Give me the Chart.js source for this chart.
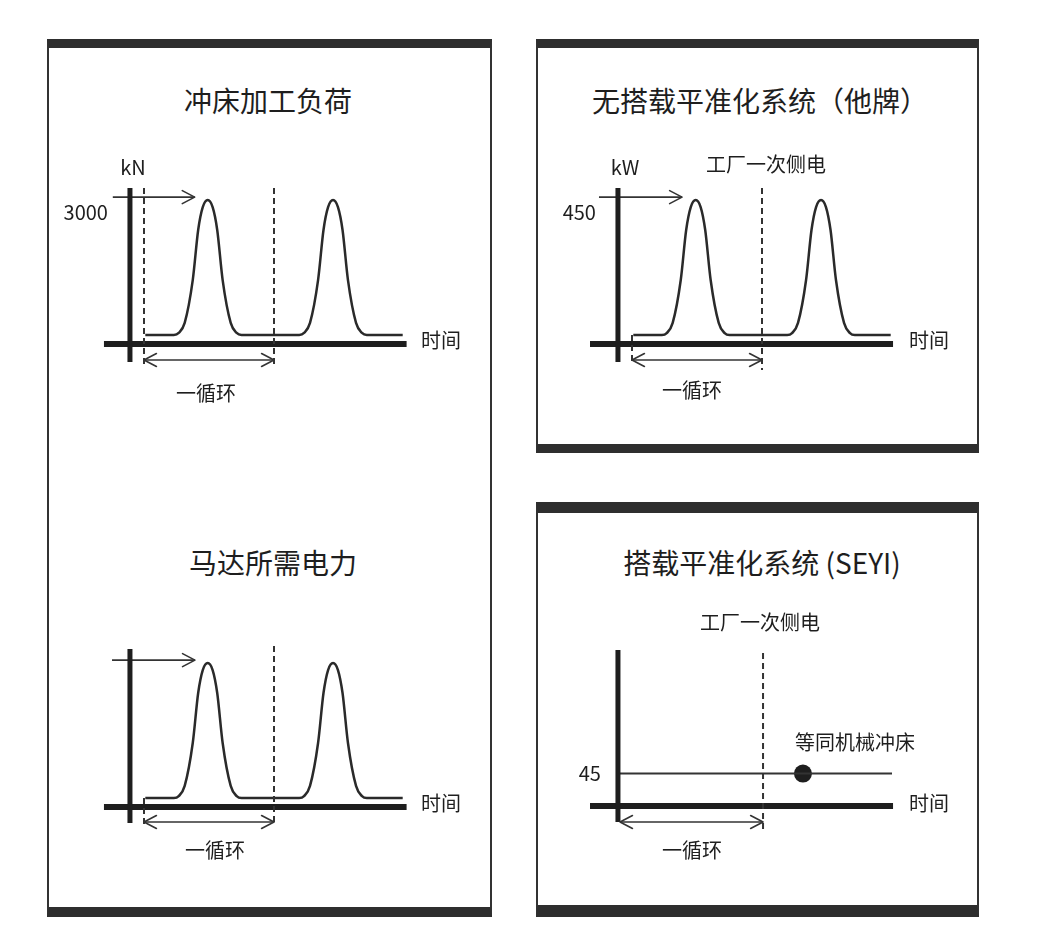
<!DOCTYPE html>
<html><head><meta charset="utf-8">
<script src="https://cdn.jsdelivr.net/npm/chart.js@4.4.1/dist/chart.umd.min.js"></script>
<style>
html,body{margin:0;padding:0;background:#fff;}
body{width:1037px;height:933px;position:relative;overflow:hidden;font-family:"Noto Sans CJK SC","Noto Sans",sans-serif;color:#1e1e1e;}
.panel{position:absolute;box-sizing:border-box;border-left:2px solid #333;border-right:2px solid #333;border-top:9px solid #2e2e2e;border-bottom:10px solid #2e2e2e;}
.t{position:absolute;transform:translate(-50%,-50%);white-space:nowrap;line-height:1;}
.title{font-size:28px;}
.lbl{font-size:20px;}
canvas{position:absolute;}
</style></head>
<body>
<div class="panel" style="left:47px;top:39px;width:445px;height:878px;"></div>
<div class="panel" style="left:536px;top:39px;width:443px;height:414px;border-bottom-width:9px;"></div>
<div class="panel" style="left:536px;top:502px;width:443px;height:415px;border-top-width:11px;border-bottom-width:12px;"></div>

<canvas id="cA" width="429" height="252" style="left:53px;top:152px;width:429px;height:252px"></canvas>
<canvas id="cB" width="429" height="252" style="left:53px;top:615px;width:429px;height:252px"></canvas>
<canvas id="cC" width="429" height="252" style="left:541px;top:152px;width:429px;height:252px"></canvas>
<canvas id="cD" width="429" height="261" style="left:541px;top:590px;width:429px;height:261px"></canvas>

<div class="t title" style="left:268px;top:100px;">冲床加工负荷</div>
<div class="t lbl" style="left:133px;top:167px;">kN</div>
<div class="t lbl" style="left:441px;top:340px;">时间</div>
<div class="t lbl" style="left:206px;top:393px;">一循环</div>

<div class="t title" style="left:273px;top:562px;">马达所需电力</div>
<div class="t lbl" style="left:441px;top:803px;">时间</div>
<div class="t lbl" style="left:215px;top:850px;">一循环</div>

<div class="t title" style="left:760px;top:100px;">无搭载平准化系统（他牌）</div>
<div class="t lbl" style="left:625px;top:167px;">kW</div>
<div class="t lbl" style="left:766px;top:164px;">工厂一次侧电</div>
<div class="t lbl" style="left:929px;top:340px;">时间</div>
<div class="t lbl" style="left:692px;top:390px;">一循环</div>

<div class="t title" style="left:762px;top:562px;">搭载平准化系统 (SEYI)</div>
<div class="t lbl" style="left:760px;top:622px;">工厂一次侧电</div>
<div class="t lbl" style="left:855px;top:742px;">等同机械冲床</div>
<div class="t lbl" style="left:929px;top:803px;">时间</div>
<div class="t lbl" style="left:692px;top:850px;">一循环</div>

<script>
// ---- data ----
const cycleTime     = [0.1, 2.3, 2.67, 3.13, 3.75, 4.17, 4.52, 4.9, 5.28, 5.63, 6.05, 6.67, 7.13, 7.5,
                       11.94, 12.31, 12.77, 13.39, 13.81, 14.16, 14.54, 14.92, 15.27, 15.69, 16.31, 16.77, 17.14, 19.9];
const pressLoadKN   = [190, 190, 230, 440, 1330, 2380, 2850, 3000, 2850, 2380, 1330, 440, 230, 190,
                       190, 230, 440, 1330, 2380, 2850, 3000, 2850, 2380, 1330, 440, 230, 190, 190];
const motorPowerKW  = [28, 28, 34, 66, 200, 357, 428, 450, 428, 357, 200, 66, 34, 28,
                       28, 34, 66, 200, 357, 428, 450, 428, 357, 200, 66, 34, 28, 28];
const gridPowerKW   = [28, 28, 34, 66, 200, 357, 428, 450, 428, 357, 200, 66, 34, 28,
                       28, 34, 66, 200, 357, 428, 450, 428, 357, 200, 66, 34, 28, 28];
const levelledTime  = [-1.08, 20.0];
const levelledKW    = [45, 45];
const equivPressTime = [13.15];
const equivPressKW   = [45];
const cycleBounds   = [0, 10];
const loadTicks     = [3000];
const loadTickLabels = ['3000'];
const powerTicks    = [450];
const powerTickLabels = ['450'];
const levelTicks    = [45];
const levelTickLabels = ['45'];

// ---- plugins ----
const arrowPlugin = {
  id: 'arrowHeads',
  afterDatasetsDraw(chart) {
    const ctx = chart.ctx;
    chart.data.datasets.forEach((ds, i) => {
      if (!ds.arrow) return;
      const pts = chart.getDatasetMeta(i).data;
      const a = pts[0], b = pts[pts.length - 1];
      ctx.save();
      ctx.strokeStyle = ds.borderColor;
      ctx.lineWidth = ds.borderWidth;
      ctx.lineCap = 'round'; ctx.lineJoin = 'round';
      const head = (tip, from) => {
        const ang = Math.atan2(tip.y - from.y, tip.x - from.x), L = 14, s = 0.48;
        ctx.beginPath();
        ctx.moveTo(tip.x - L * Math.cos(ang - s), tip.y - L * Math.sin(ang - s));
        ctx.lineTo(tip.x, tip.y);
        ctx.lineTo(tip.x - L * Math.cos(ang + s), tip.y - L * Math.sin(ang + s));
        ctx.stroke();
      };
      head(b, a);
      if (ds.arrow === 'both') head(a, b);
      ctx.restore();
    });
  }
};
const tickPlugin = {
  id: 'valueTicks',
  afterDatasetsDraw(chart, args, o) {
    if (!o || !o.values || !o.values.length) return;
    const ctx = chart.ctx;
    ctx.save();
    ctx.font = '20px "Noto Sans CJK SC", "Noto Sans", sans-serif';
    ctx.fillStyle = '#1e1e1e';
    ctx.textAlign = 'right'; ctx.textBaseline = 'middle';
    const x = chart.scales.x.getPixelForValue(o.atX) - o.gap;
    o.values.forEach((v, i) => {
      ctx.fillText(o.labels[i], x, chart.scales.y.getPixelForValue(v) + o.dy);
    });
    ctx.restore();
  }
};

const X_RANGE = [-7, 26];
const AXIS = '#1e1e1e', INK = '#2a2a2a';
const seg = (x1, y1, x2, y2) => [{x: x1, y: y1}, {x: x2, y: y2}];
const ds = (data, o) => Object.assign({data, borderColor: INK, borderWidth: 2, pointRadius: 0,
  fill: false, clip: false, tension: 0}, o);
const dash = (x, top, bottom) => ds(seg(x, top, x, bottom), {borderDash: [6, 4], borderWidth: 2, borderColor: '#333'});

function buildPanel(g, times, values) {
  const sets = [];
  g.dashes.forEach(d => sets.push(dash(d[0], d[1], d[2])));
  sets.push(ds(seg(g.yAxisX, g.yAxis[0], g.yAxisX, g.yAxis[1]), {borderWidth: 5, borderColor: AXIS}));
  sets.push(ds(seg(g.xAxis[0], 0, g.xAxis[1], 0), {borderWidth: 6, borderColor: AXIS}));
  if (times) sets.push(ds(times.map((t, i) => ({x: t, y: values[i]})), g.curveStyle || {borderWidth: 2.5, cubicInterpolationMode: 'monotone'}));
  if (g.arrowY !== undefined) sets.push(ds(seg(g.arrowX[0], g.arrowY, g.arrowX[1], g.arrowY), {borderWidth: 1.6, borderColor: '#333', arrow: 'end'}));
  sets.push(ds(seg(g.cycleX[0], g.cycleY, g.cycleX[1], g.cycleY), {borderWidth: 1.6, borderColor: '#333', arrow: 'both'}));
  return sets;
}

function makeChart(id, yRange, datasets, ticks) {
  return new Chart(document.getElementById(id), {
    type: 'line',
    data: {datasets},
    options: {
      responsive: false, animation: false, events: [],
      layout: {padding: 0, autoPadding: false},
      scales: {
        x: {type: 'linear', min: X_RANGE[0], max: X_RANGE[1], display: false},
        y: {type: 'linear', min: yRange[0], max: yRange[1], display: false}
      },
      plugins: {legend: {display: false}, tooltip: {enabled: false}, valueTicks: ticks || {values: []}}
    },
    plugins: [arrowPlugin, tickPlugin]
  });
}

// Panel A: press load
makeChart('cA', [-1250, 4000], buildPanel({
  yAxisX: -1.08, yAxis: [3250, -375], xAxis: [-3.08, 20.2],
  dashes: [[cycleBounds[0], 3250, -500], [cycleBounds[1], 3250, -500]],
  arrowY: 3060, arrowX: [-2.4, 3.9],
  cycleY: -333, cycleX: cycleBounds
}, cycleTime, pressLoadKN), {values: loadTicks, labels: loadTickLabels, atX: -1.08, gap: 22, dy: 12});

// Panel B: motor power
makeChart('cB', [-187.5, 600], buildPanel({
  yAxisX: -1.08, yAxis: [494, -50], xAxis: [-3.08, 20.2],
  dashes: [[cycleBounds[1], 503, -56], [cycleBounds[0], 28, -56]],
  arrowY: 459, arrowX: [-2.46, 3.92],
  cycleY: -47, cycleX: cycleBounds
}, cycleTime, motorPowerKW));

// Panel C: grid power without levelling
makeChart('cC', [-187.5, 600], buildPanel({
  yAxisX: -1.08, yAxis: [487.5, -56], xAxis: [-3.23, 20.08],
  dashes: [[cycleBounds[1], 487.5, -81], [cycleBounds[0], 28, -65]],
  arrowY: 459, arrowX: [-2.54, 3.85],
  cycleY: -50, cycleX: cycleBounds
}, cycleTime, gridPowerKW), {values: powerTicks, labels: powerTickLabels, atX: -1.08, gap: 22, dy: 12});

// Panel D: grid power with levelling
const dSets = buildPanel({
  yAxisX: -1.08, yAxis: [216.7, -22.2], xAxis: [-3.23, 20.08],
  dashes: [[cycleBounds[1] + 0.08, 212.5, -37.5]],
  cycleY: -22.2, cycleX: [-0.92, cycleBounds[1] + 0.08],
  curveStyle: {borderWidth: 2, borderColor: '#333'}
}, levelledTime, levelledKW);
dSets.push(ds(equivPressTime.map((t, i) => ({x: t, y: equivPressKW[i]})),
  {showLine: false, pointRadius: 9, pointBackgroundColor: '#1e1e1e', pointBorderColor: '#1e1e1e', pointBorderWidth: 0}));
makeChart('cD', [-62.5, 300], dSets, {values: levelTicks, labels: levelTickLabels, atX: -1.08, gap: 17, dy: 0});
</script>
</body></html>
